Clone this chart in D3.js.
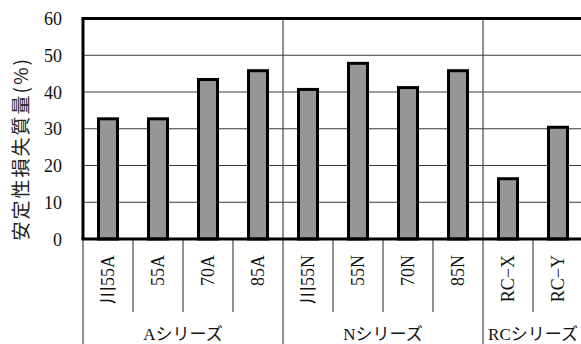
<!DOCTYPE html>
<html>
<head>
<meta charset="utf-8">
<script src="https://cdn.jsdelivr.net/npm/d3@7"></script>
<style>
  html, body { margin: 0; padding: 0; background: #fff; }
  svg { display: block; }
</style>
</head>
<body>
<svg id="chart" width="581" height="344"></svg>
<script>
// Specimen names, grouped into series
const categories = ["川55A", "55A", "70A", "85A", "川55N", "55N", "70N", "85N", "RC−X", "RC−Y"];
// Stability loss mass (%)
const values = [32.7, 32.7, 43.4, 45.8, 40.7, 47.8, 41.2, 45.8, 16.4, 30.4];
const groupNames = ["Aシリーズ", "Nシリーズ", "RCシリーズ"];
const groupSizes = [4, 4, 2];
const yTicks = [0, 10, 20, 30, 40, 50, 60];

const SERIF = "'Liberation Serif', 'Times New Roman', 'DejaVu Serif', 'Noto Sans CJK JP', serif";

const svg = d3.select("#chart");
const plotLeft = 83, plotRight = 583, plotTop = 18.5, plotBottom = 239;

const x = d3.scaleBand().domain(categories).range([plotLeft, plotRight]).padding(0);
const y = d3.scaleLinear().domain([0, 60]).range([plotBottom, plotTop]);

// horizontal grid lines
svg.append("g").selectAll("line")
  .data(yTicks.filter(t => t > 0 && t < 60))
  .join("line")
  .attr("x1", plotLeft).attr("x2", plotRight)
  .attr("y1", d => y(d)).attr("y2", d => y(d))
  .attr("stroke", "#3a3a3a").attr("stroke-width", 1);

// group boundaries
const groupStarts = [];
let acc = 0;
groupSizes.forEach(n => { groupStarts.push(acc); acc += n; });
const boundaryX = groupStarts.slice(1).map(i => x(categories[i]));
svg.append("g").selectAll("line")
  .data(boundaryX)
  .join("line")
  .attr("x1", d => d).attr("x2", d => d)
  .attr("y1", plotTop + 1).attr("y2", 344)
  .attr("stroke", "#555").attr("stroke-width", 1.3);

// category tick separators under the axis
const innerTicks = categories.slice(1)
  .map((c, i) => i + 1)
  .filter(i => !groupStarts.includes(i))
  .map(i => x(categories[i]));
svg.append("g").selectAll("line")
  .data(innerTicks)
  .join("line")
  .attr("x1", d => d).attr("x2", d => d)
  .attr("y1", plotBottom).attr("y2", 312)
  .attr("stroke", "#555").attr("stroke-width", 1.3);

// left line continuing under the axis
svg.append("line")
  .attr("x1", plotLeft).attr("x2", plotLeft)
  .attr("y1", plotBottom).attr("y2", 344)
  .attr("stroke", "#555").attr("stroke-width", 1.3);

// bars
const barW = 19;
svg.append("g").selectAll("rect")
  .data(categories.map((c, i) => ({ c, v: values[i] })))
  .join("rect")
  .attr("x", d => x(d.c) + x.bandwidth() / 2 - barW / 2)
  .attr("width", barW)
  .attr("y", d => y(d.v))
  .attr("height", d => y(0) - y(d.v))
  .attr("fill", "#969696")
  .attr("stroke", "#000")
  .attr("stroke-width", 3);

// frame: top, left, bottom
svg.append("line").attr("x1", plotLeft - 1.5).attr("x2", plotRight).attr("y1", plotTop).attr("y2", plotTop)
  .attr("stroke", "#000").attr("stroke-width", 3);
svg.append("line").attr("x1", plotLeft).attr("x2", plotLeft).attr("y1", plotTop).attr("y2", plotBottom)
  .attr("stroke", "#000").attr("stroke-width", 3);
svg.append("line").attr("x1", plotLeft - 1.5).attr("x2", plotRight).attr("y1", plotBottom).attr("y2", plotBottom)
  .attr("stroke", "#000").attr("stroke-width", 3);

// y tick labels
const yAxis = d3.axisLeft(y).tickValues(yTicks).tickSize(0).tickPadding(0);
const ya = svg.append("g").attr("transform", `translate(${plotLeft - 21},0)`).call(yAxis);
ya.attr("font-family", SERIF).attr("font-size", 18);
ya.select(".domain").remove();
ya.selectAll("text")
  .attr("fill", "#111")
  .attr("dy", "0.34em");

// y axis title
svg.append("text")
  .attr("transform", `translate(28,${(plotTop + plotBottom) / 2 + 20}) rotate(-90)`)
  .attr("text-anchor", "middle")
  .attr("font-family", "'Noto Sans CJK JP', sans-serif")
  .attr("font-size", 19)
  .attr("letter-spacing", 2)
  .attr("fill", "#222")
  .text("安定性損失質量(%)");

// category labels, rotated
svg.append("g").selectAll("text")
  .data(categories)
  .join("text")
  .attr("font-family", SERIF)
  .attr("font-size", 18)
  .attr("fill", "#111")
  .attr("text-anchor", "end")
  .attr("transform", d => `translate(${x(d) + x.bandwidth() / 2 + 6},255) rotate(-90)`)
  .text(d => d);

// series labels
svg.append("g").selectAll("text")
  .data(groupNames)
  .join("text")
  .attr("font-family", SERIF)
  .attr("font-size", 17)
  .attr("fill", "#111")
  .attr("text-anchor", "middle")
  .attr("x", (d, i) => {
    const a = x(categories[groupStarts[i]]);
    const b = a + groupSizes[i] * x.bandwidth();
    return (a + b) / 2;
  })
  .attr("y", 340)
  .text(d => d);
</script>
</body>
</html>
